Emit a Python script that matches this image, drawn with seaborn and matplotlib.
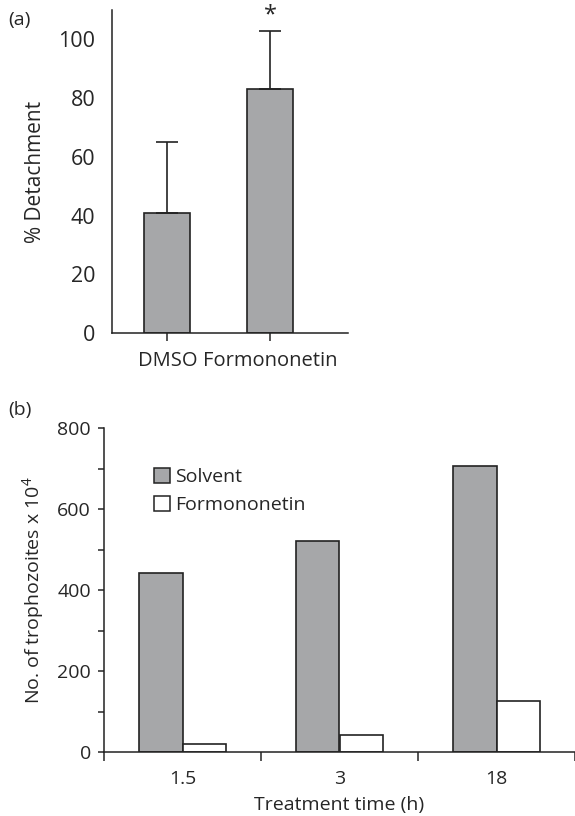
import numpy as np
import pandas as pd
import matplotlib
matplotlib.use("Agg")
import matplotlib.pyplot as plt
import seaborn as sns
from matplotlib.patches import Patch

# ── data ─────────────────────────────────────────────
a_groups = ["DMSO", "Formononetin"]
a_values = [41, 83]
a_err_top = [65, 103]          # upper end of the error bar

b_times = ["1.5", "3", "18"]
b_solvent = [442, 522, 706]
b_formononetin = [20, 41, 126]

GRAY = "#a6a7a9"

sns.set_theme(style="white")
plt.rcParams["font.family"] = ["Open Sans", "DejaVu Sans"]
plt.rcParams["axes.edgecolor"] = "#222222"
plt.rcParams["axes.linewidth"] = 1.1

fig = plt.figure(figsize=(5.75, 8.16), dpi=100)
FS = 14

# ── (a) % detachment ─────────────────────────────────
ax1 = fig.add_axes([112 / 575, 1 - 333 / 816, (348 - 112) / 575, 323 / 816])
df_a = pd.DataFrame({"group": a_groups, "value": a_values})
sns.barplot(data=df_a, x="group", y="value", color=GRAY, saturation=1,
            width=0.45, edgecolor="#222222", linewidth=1.2, errorbar=None, ax=ax1)
err = np.array(a_err_top) - np.array(a_values)
ax1.errorbar(range(len(a_groups)), a_values, yerr=[np.zeros_like(err), err],
             fmt="none", ecolor="#222222", elinewidth=1.2, capsize=8, capthick=1.2)
ax1.text(1, a_err_top[1] + 1.2, "*", ha="center", va="bottom", fontsize=17)
ax1.set_ylim(0, 110)
ax1.set_xlim(-0.54, 1.76)
ax1.set_yticks([0, 20, 40, 60, 80, 100])
ax1.tick_params(axis="y", length=0, pad=12, labelsize=15.5)
ax1.tick_params(axis="x", direction="out", length=6, width=1.1, pad=7,
                labelsize=14.5, bottom=True)
ax1.set_xlabel("")
ax1.set_ylabel("% Detachment", fontsize=15, labelpad=9)
sns.despine(ax=ax1)
fig.text(8 / 575, 1 - 20 / 816, "(a)", fontsize=FS, va="center")

# ── (b) trophozoite counts ───────────────────────────
ax2 = fig.add_axes([104 / 575, 1 - 752 / 816, (575 - 104) / 575, 324 / 816])
df_b = pd.DataFrame({
    "time": b_times * 2,
    "count": b_solvent + b_formononetin,
    "treat": ["Solvent"] * 3 + ["Formononetin"] * 3,
})
sns.barplot(data=df_b, x="time", y="count", hue="treat", order=b_times,
            palette={"Solvent": GRAY, "Formononetin": "white"}, saturation=1,
            width=0.56, gap=0, edgecolor="#222222", linewidth=1.2,
            errorbar=None, legend=False, ax=ax2)
ax2.set_ylim(0, 800)
ax2.set_xlim(-0.5, 2.5)
ax2.set_yticks([0, 200, 400, 600, 800])
ax2.set_yticks([100, 300, 500, 700], minor=True)
ax2.tick_params(axis="y", which="both", direction="out", length=4.5, width=1.1,
                left=True, pad=5, labelsize=FS)
ax2.set_xticks([0, 1, 2])
ax2.set_xticklabels(b_times)
ax2.set_xticks([-0.5, 0.5, 1.5, 2.5], minor=True)
ax2.tick_params(axis="x", which="major", length=0, pad=13, labelsize=FS)
ax2.tick_params(axis="x", which="minor", direction="out", length=6.5, width=1.1,
                bottom=True)
ax2.set_xlabel("Treatment time (h)", fontsize=FS, labelpad=6)
ax2.set_ylabel(r"No. of trophozoites x 10$\mathregular{^4}$", fontsize=FS,
               labelpad=8)
sns.despine(ax=ax2)
handles = [Patch(facecolor=GRAY, edgecolor="#222222", linewidth=1.1),
           Patch(facecolor="white", edgecolor="#222222", linewidth=1.1)]
ax2.legend(handles, ["Solvent", "Formononetin"], loc="upper left",
           bbox_to_anchor=(0.09, 0.9), frameon=False, fontsize=FS,
           handlelength=0.8, handleheight=0.8, handletextpad=0.3,
           labelspacing=0.5, borderaxespad=0)
fig.text(8 / 575, 1 - 410 / 816, "(b)", fontsize=FS, va="center")

fig.savefig("out.png", dpi=100)
